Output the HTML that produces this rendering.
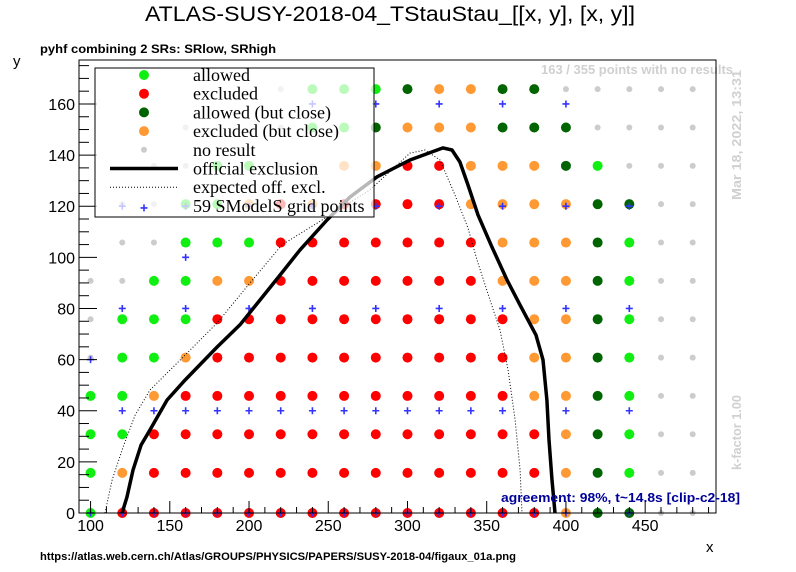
<!DOCTYPE html>
<html><head><meta charset="utf-8"><style>
body{margin:0;background:#fff}
svg{display:block;font-family:"Liberation Sans",sans-serif}
</style></head><body>
<svg id="chart" width="796" height="572" viewBox="0 0 796 572">
<rect width="796" height="572" fill="#fff"/>
<text x="390" y="21" font-size="21" text-anchor="middle" textLength="490" lengthAdjust="spacingAndGlyphs">ATLAS-SUSY-2018-04_TStauStau_[[x, y], [x, y]]</text>
<text x="40" y="53" font-size="12" font-weight="bold" textLength="236" lengthAdjust="spacingAndGlyphs">pyhf combining 2 SRs: SRlow, SRhigh</text>
<text x="13" y="66" font-size="15">y</text>
<text x="706" y="552" font-size="15">x</text>
<text x="40" y="560" font-size="11" font-weight="bold" textLength="476" lengthAdjust="spacingAndGlyphs">https://atlas.web.cern.ch/Atlas/GROUPS/PHYSICS/PAPERS/SUSY-2018-04/figaux_01a.png</text>
<text x="733" y="74" font-size="13" font-weight="bold" fill="#d0d0d0" text-anchor="end" textLength="192" lengthAdjust="spacingAndGlyphs">163 / 355 points with no results</text>
<text transform="translate(741,200) rotate(-90)" font-size="13" font-weight="bold" fill="#d0d0d0" textLength="130" lengthAdjust="spacingAndGlyphs">Mar 18, 2022, 13:31</text>
<text transform="translate(741,470) rotate(-90)" font-size="13" font-weight="bold" fill="#d0d0d0" textLength="75" lengthAdjust="spacingAndGlyphs">k-factor 1.00</text>
<g id="plot"></g>
<g id="axes"></g>
<text x="740" y="502" font-size="13" font-weight="bold" fill="#000099" text-anchor="end" textLength="239" lengthAdjust="spacingAndGlyphs">agreement: 98%, t~14.8s [clip-c2-18]</text>
<g id="legend"></g>
</svg>
<script>
const xCols=[100,120,140,160,180,200,220,240,260,280,300,320,340,360,380,400,420,440,460,480];
const yRows=[0,15.7,30.8,45.8,60.8,75.8,90.8,105.8,120.8,135.8,150.8,165.8];
// g allowed, r excluded, d allowed(close), o excluded(close), n no result, . none
const rowCodes=[
"grrrrrrrrrrrrrroddnn",
"gorrrrrrrrrrrrrodgnn",
"ggrrrrrrrrrrrrrodgnn",
"ggorrrrrrrrrrroodgnn",
"nggorrrrrrrrrroodgnn",
"ngggrrrrrrrrrroodgnn",
"nnggoorrrrrrrooodgnn",
".nngggrrrrrrrooodgnn",
".nnggororrrrooooddnn",
"..nnggnnoorrooodgnnn",
"...n..nggdooodddnnnn",
"......ngggdooddnnnnn"
];
const plusX0=[100,120,140,160,180,200,220,240,260,280,300,320,340,360,380,400,440];
const plusX40=[120,140,160,180,200,220,240,260,280,300,320,340,360,400,440];
const plusX60=[100];
const plusX80=[120,160,200,240,280,320,360,400,440];
const plusX100=[160];
const plusX120=[120,160,200,240,280,320,360,400,440];
const plusX160=[240,280,320,360,400];
const officialX=[119.9,123.0,126.8,131.9,137.5,148.3,159.6,179.8,194.3,206.9,219.6,232.2,249.2,263.7,280.8,301.6,322.4,328.1,333.1,338.2,344.5,353.3,362.8,371.0,381.1,385.5,388.0,389.3,391.2,393.1];
const officialY=[0,6.3,16.8,26.6,32.5,44.2,52.0,64.9,73.6,83.3,93.1,102.9,114.6,123.6,131.5,138.1,142.8,142.0,137.3,128.3,116.6,104.1,91.2,81.4,69.6,59.9,44.2,28.6,12.9,0];
const expectedX=[109.1,113.6,120.5,128.1,137.5,158.4,179.8,200.6,220.8,249.2,276.3,301.6,311.0,320.5,330.0,338.2,343.9,352.1,358.4,363.5,367.9,371.1,372.3];
const expectedY=[0,12.9,25.8,38.3,48.1,61.0,74.3,90.0,104.9,115.8,126.4,140.8,142.0,138.1,124.4,111.5,99.0,83.3,71.6,55.9,36.4,16.8,0];
const xTicks=[100,150,200,250,300,350,400,450];
const yTicks=[0,20,40,60,80,100,120,140,160];

const X0=92.7,X1=494.7,Y0=0,Y1=177.2,L=79,R=716,T=60,B=513;
const sx=v=>L+(v-X0)/(X1-X0)*(R-L);
const sy=v=>B-(v-Y0)/(Y1-Y0)*(B-T);
const NS='http://www.w3.org/2000/svg';
const colors={g:'#11ee11',r:'#ff0000',d:'#006400',o:'#ff9933',n:'#cccccc'};
const names={g:'allowed',r:'excluded',d:'allowed-close',o:'excluded-close',n:'no-result'};
function mk(tag,attrs,parent){const e=document.createElementNS(NS,tag);for(const k in attrs)e.setAttribute(k,attrs[k]);parent.appendChild(e);return e;}
const plot=document.getElementById('plot');
rowCodes.forEach((codes,ri)=>{
  for(let i=0;i<codes.length&&i<xCols.length;i++){
    const c=codes[i];
    if(!colors[c])continue;
    const e=mk('circle',{cx:sx(xCols[i]),cy:sy(yRows[ri]),r:c==='n'?3:5,fill:colors[c]},plot);
    
    
  }
});
function pluses(xs,y){xs.forEach(x=>{
  const px=sx(x),py=sy(y);
  const e=mk('path',{d:`M${px-3.5},${py}H${px+3.5}M${px},${py-3.5}V${py+3.5}`,stroke:'#3333ff','stroke-width':1.6},plot);
  
  
});}
pluses(plusX0,0);pluses(plusX40,40);pluses(plusX60,60);pluses(plusX80,80);pluses(plusX100,100);pluses(plusX120,120);pluses(plusX160,160);
function line(xs,ys,attrs,name){
  const d=xs.map((x,i)=>(i?'L':'M')+sx(x).toFixed(1)+','+sy(ys[i]).toFixed(1)).join('');
  const e=mk('path',Object.assign({d,fill:'none'},attrs),plot);
  
  
}
line(expectedX,expectedY,{stroke:'#000','stroke-width':1,'stroke-dasharray':'1,2'},'expected-exclusion-line');
line(officialX,officialY,{stroke:'#000','stroke-width':3.5,'stroke-linejoin':'round'},'official-exclusion-line');
const ax=document.getElementById('axes');
const fr=mk('rect',{x:L,y:T,width:R-L,height:B-T,fill:'none',stroke:'#000','stroke-width':1},ax);


for(let v=100;v<=490;v+=10){const px=sx(v);const maj=v%50===0;mk('line',{x1:px,x2:px,y1:B,y2:B-(maj?12:6),stroke:'#000'},ax);}
for(let v=0;v<=175;v+=5){const py=sy(v);const maj=v%20===0;mk('line',{x1:L,x2:L+(maj?18:10),y1:py,y2:py,stroke:'#000'},ax);}
xTicks.forEach(v=>{const t=mk('text',{x:sx(v),y:531,'font-size':16,'text-anchor':'middle'},ax);t.textContent=v;
  
  });
yTicks.forEach(v=>{const t=mk('text',{x:L-4,y:sy(v)+6,'font-size':16,'text-anchor':'end'},ax);t.textContent=v;
  
  });
const lg=document.getElementById('legend');
mk('rect',{x:95,y:68,width:279,height:149,fill:'#fff','fill-opacity':0.72,stroke:'#000','stroke-width':1},lg);
const entries=[['allowed','g'],['excluded','r'],['allowed (but close)','d'],['excluded (but close)','o'],['no result','n'],['official exclusion','L'],['expected off. excl.','E'],['59 SModelS grid points','P']];
entries.forEach((en,i)=>{
  const y=75+i*18.7;
  const g=mk('g',{},lg);
  
  
  const k=en[1];
  if(colors[k])mk('circle',{cx:144,cy:y,r:k==='n'?3:5,fill:colors[k]},g);
  else if(k==='L')mk('line',{x1:110,x2:178,y1:y,y2:y,stroke:'#000','stroke-width':3.5},g);
  else if(k==='E')mk('line',{x1:110,x2:178,y1:y,y2:y,stroke:'#000','stroke-width':1,'stroke-dasharray':'1,2'},g);
  else mk('path',{d:`M140.5,${y+2}H147.5M144,${y-1.5}V${y+5.5}`,stroke:'#3333ff','stroke-width':1.6},g);
  const t=mk('text',{x:193,y:y+6,'font-size':18,'font-family':'"Liberation Serif",serif'},g);
  t.textContent=en[0];
});
</script>
</body></html>
